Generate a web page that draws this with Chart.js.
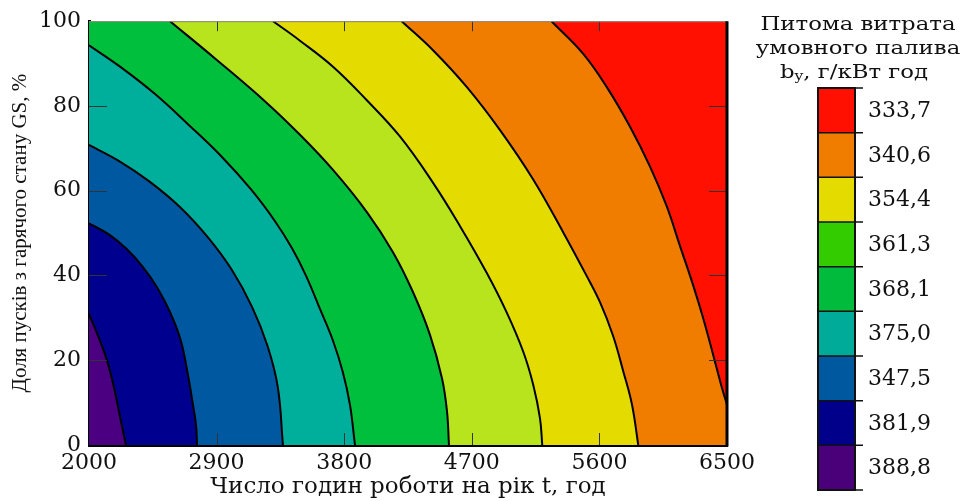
<!DOCTYPE html>
<html>
<head>
<meta charset="utf-8">
<script src="https://cdn.jsdelivr.net/npm/chart.js@4.4.1/dist/chart.umd.min.js"></script>
<style>
  html, body { margin: 0; padding: 0; background: #fff; }
  #wrap { width: 960px; height: 501px; position: relative; }
</style>
</head>
<body>
<div id="wrap"><canvas id="chart" width="960" height="501"></canvas></div>
<script>
// axis ticks
const xTicks = [2000, 2900, 3800, 4700, 5600, 6500];
const yTicks = [0, 20, 40, 60, 80, 100];

// contour boundaries, [t, GS] from bottom to top
const line1 = [[2261, 0], [2219, 6.6], [2176, 13.6], [2127, 19.9], [2063, 25.8], [2000, 30.9]];
const line2 = [[2762, 0], [2755, 4.7], [2734, 9.4], [2695, 17.1], [2647, 24.7], [2575, 31.1], [2482, 37.1], [2378, 42.1], [2264, 46.3], [2140, 49.7], [2000, 52.3]];
const line3 = [[3368, 0], [3332, 13.6], [3260, 23.3], [3150, 32.6], [3006, 41.4], [2836, 49.1], [2643, 56.1], [2425, 62.2], [2207, 67.1], [2000, 70.8]];
const line4 = [[3876, 0], [3841, 9.4], [3791, 17.1], [3721, 24.6], [3629, 32.1], [3531, 39.9], [3432, 46.4], [3312, 52.8], [3143, 60.3], [2931, 68.2], [2698, 75.7], [2466, 82.8], [2226, 89.1], [2000, 94.3]];
const line5 = [[4539, 0], [4525, 8], [4490, 15.7], [4405, 26], [4285, 36.1], [4144, 45.5], [3961, 54.9], [3721, 64.9], [3488, 73.2], [3248, 80.9], [2889, 91.2], [2571, 100]];
const line6 = [[5197, 0], [5181, 6.3], [5134, 14.1], [5063, 22], [4946, 31.3], [4804, 40.7], [4616, 51.7], [4428, 61.8], [4193, 72.8], [3958, 81.4], [3723, 89.2], [3488, 95.4], [3298, 100]];
const line7 = [[5874, 0], [5830, 9.5], [5769, 17.3], [5695, 25.9], [5604, 33.7], [5510, 39.9], [5346, 50.1], [5134, 62.6], [4899, 74.3], [4664, 84.5], [4428, 93.1], [4205, 100]];
const line8 = [[6500, 9.5], [6460, 14], [6403, 21.2], [6333, 29.8], [6262, 37.6], [6168, 47], [6074, 56.4], [5957, 65.7], [5816, 75.1], [5651, 84.5], [5486, 92.3], [5262, 100]];

// band colours in the plot (left of each line), last one is the background
const bandColors = ['#4b0082', '#00008e', '#0059a0', '#00ae9c', '#00bf3c', '#b8e41e', '#e4dc00', '#f07c00'];
const redColor = '#ff1000';

// colour bar
const barTitle = ['Питома витрата', 'умовного палива'];
const barLabels = ['333,7', '340,6', '354,4', '361,3', '368,1', '375,0', '347,5', '381,9', '388,8'];
const barColors = ['#ff1000', '#f07c00', '#e4dc00', '#33cc00', '#00bb3c', '#00ab9a', '#00589e', '#00008a', '#4a0078'];

const toXY = arr => arr.map(p => ({ x: p[0], y: p[1] }));

function boundary(points, color, fillTo) {
    return {
        data: toXY(points),
        borderColor: '#000',
        borderWidth: 2,
        backgroundColor: color,
        fill: { value: fillTo },
        pointRadius: 0,
        pointHoverRadius: 0,
        tension: 0.4
    };
}

const bgPlugin = {
    id: 'bandBackground',
    beforeDatasetsDraw(chart) {
        const { ctx, chartArea: a } = chart;
        ctx.save();
        ctx.fillStyle = bandColors[7];
        ctx.fillRect(a.left, a.top, a.right - a.left, a.bottom - a.top);
        ctx.restore();
    }
};

const framePlugin = {
    id: 'frame',
    afterDatasetsDraw(chart) {
        const { ctx, chartArea: a, scales } = chart;
        ctx.save();
        ctx.strokeStyle = '#333';
        ctx.lineWidth = 1;
        xTicks.slice(1, -1).forEach(v => {
            const px = Math.round(scales.x.getPixelForValue(v)) + 0.5;
            ctx.beginPath();
            ctx.moveTo(px, a.bottom); ctx.lineTo(px, a.bottom - 12);
            ctx.moveTo(px, a.top); ctx.lineTo(px, a.top + 10);
            ctx.stroke();
        });
        yTicks.slice(1, -1).forEach(v => {
            const py = Math.round(scales.y.getPixelForValue(v)) + 0.5;
            ctx.beginPath();
            ctx.moveTo(a.left, py); ctx.lineTo(a.left + 18, py);
            ctx.moveTo(a.right, py); ctx.lineTo(a.right - 18, py);
            ctx.stroke();
        });
        ctx.strokeStyle = '#888';
        ctx.beginPath();
        ctx.moveTo(a.left, a.top + 0.5); ctx.lineTo(a.right, a.top + 0.5);
        ctx.stroke();
        ctx.strokeStyle = '#000';
        ctx.lineWidth = 3;
        ctx.beginPath();
        ctx.moveTo(a.right, a.top); ctx.lineTo(a.right, a.bottom + 1.5);
        ctx.stroke();
        ctx.restore();
    }
};

// the source text is wide, so the title is stretched sideways a bit
function wideText(ctx, text, cx, cy, sx) {
    ctx.save();
    ctx.translate(cx, cy);
    ctx.scale(sx, 1);
    ctx.fillText(text, 0, 0);
    ctx.restore();
}

const colorBarPlugin = {
    id: 'colorBar',
    afterDraw(chart) {
        const ctx = chart.ctx;
        const left = 818, width = 37, top = 88, bottom = 490;
        const h = (bottom - top) / barColors.length;
        const sx = 1.2;
        ctx.save();
        ctx.fillStyle = '#111';
        ctx.textAlign = 'center';
        ctx.textBaseline = 'middle';
        ctx.font = '19px "DejaVu Serif"';
        wideText(ctx, barTitle[0], 858, 25, sx);
        wideText(ctx, barTitle[1], 858, 49, sx);
        // third line: b with subscript y
        const p1 = 'b', sub = 'y', p2 = ', г/кВт год';
        const w1 = ctx.measureText(p1).width * sx;
        const w3 = ctx.measureText(p2).width * sx;
        ctx.font = '13px "DejaVu Serif"';
        const w2 = ctx.measureText(sub).width * sx;
        const x0 = 854 - (w1 + w2 + w3) / 2;
        ctx.textAlign = 'left';
        ctx.font = '19px "DejaVu Serif"';
        wideText(ctx, p1, x0, 73, sx);
        ctx.font = '13px "DejaVu Serif"';
        wideText(ctx, sub, x0 + w1, 77, sx);
        ctx.font = '19px "DejaVu Serif"';
        wideText(ctx, p2, x0 + w1 + w2, 73, sx);

        barColors.forEach((c, i) => {
            ctx.fillStyle = c;
            ctx.fillRect(left, top + i * h, width, h);
        });
        ctx.strokeStyle = '#111';
        ctx.lineWidth = 1.5;
        for (let i = 0; i <= barColors.length; i++) {
            const y = top + i * h;
            ctx.beginPath();
            ctx.moveTo(left, y); ctx.lineTo(left + width + 8, y);
            ctx.stroke();
        }
        ctx.lineWidth = 2;
        ctx.strokeRect(left, top, width, bottom - top);
        ctx.fillStyle = '#111';
        ctx.font = '22px "DejaVu Serif"';
        barLabels.forEach((t, i) => {
            ctx.fillText(t, left + width + 13, top + (i + 0.5) * h + 1);
        });
        ctx.restore();
    }
};

document.addEventListener('DOMContentLoaded', function() {
    const $ctx = document.getElementById('chart');
    const lines = [line1, line2, line3, line4, line5, line6, line7];
    const datasets = lines.map((l, i) => boundary(l, bandColors[i], 2000));
    datasets.push(boundary(line8, redColor, 6500));

    new Chart($ctx, {
        type: 'line',
        data: { datasets: datasets },
        options: {
            indexAxis: 'y',
            responsive: false,
            animation: false,
            events: [],
            layout: { padding: { top: 18, right: 233, left: 0, bottom: 0 } },
            plugins: { legend: { display: false }, tooltip: { enabled: false } },
            scales: {
                x: {
                    type: 'linear',
                    min: 2000,
                    max: 6500,
                    afterBuildTicks: s => { s.ticks = xTicks.map(v => ({ value: v })); },
                    afterFit: s => { s.height = 56; },
                    grid: { drawOnChartArea: false, drawTicks: false },
                    border: { display: true, color: '#000', width: 3 },
                    ticks: {
                        color: '#111',
                        padding: 5,
                        maxRotation: 0,
                        callback: v => String(v),
                        font: { family: 'DejaVu Serif', size: 22 }
                    },
                    title: {
                        display: true,
                        text: 'Число годин роботи на рік t, год',
                        color: '#111',
                        padding: { top: 0, bottom: 0 },
                        font: { family: 'DejaVu Serif', size: 23 }
                    }
                },
                y: {
                    type: 'linear',
                    min: 0,
                    max: 100,
                    afterBuildTicks: s => { s.ticks = yTicks.map(v => ({ value: v })); },
                    afterFit: s => { s.width = 89; },
                    grid: { drawOnChartArea: false, drawTicks: false },
                    border: { display: true, color: '#000', width: 3 },
                    ticks: {
                        color: '#111',
                        padding: 8,
                        callback: v => String(v),
                        font: { family: 'DejaVu Serif', size: 22 }
                    },
                    title: {
                        display: true,
                        text: 'Доля пусків з гарячого стану GS, %',
                        color: '#111',
                        padding: { top: 8, bottom: 0 },
                        font: { family: 'Liberation Serif', size: 21 }
                    }
                }
            }
        },
        plugins: [bgPlugin, framePlugin, colorBarPlugin]
    });
}, false);
</script>
</body>
</html>
